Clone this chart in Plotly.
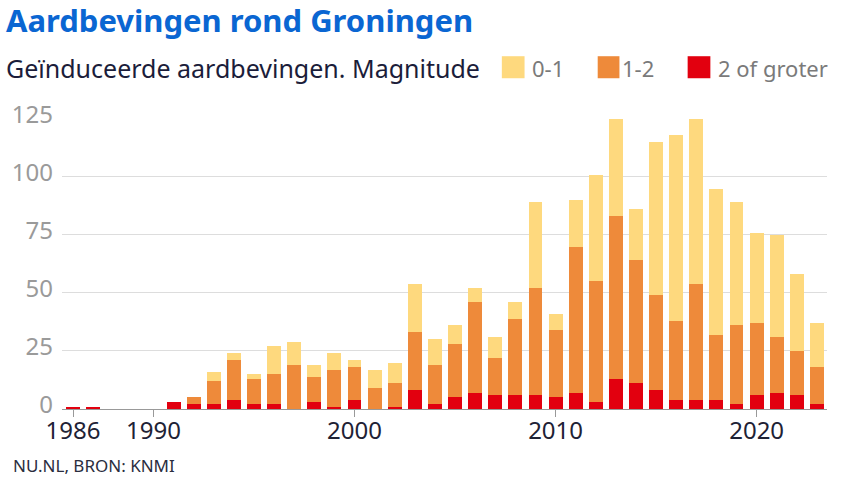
import plotly.graph_objects as go

years = list(range(1986, 2024))
# per-magnitude-class counts
mag_2plus = [1, 1, 0, 0, 0, 3, 2, 2, 4, 2, 2, 0, 3, 1, 4, 0, 1, 8, 2, 5, 7, 6, 6, 6, 5, 7, 3, 13, 11, 8, 4, 4, 4, 2, 6, 7, 6, 2]
mag_1_2 = [0, 0, 0, 0, 0, 0, 3, 10, 17, 11, 13, 19, 11, 16, 14, 9, 10, 25, 17, 23, 39, 16, 33, 46, 29, 63, 52, 70, 53, 41, 34, 50, 28, 34, 31, 24, 19, 16]
mag_0_1 = [0, 0, 0, 0, 0, 0, 0, 4, 3, 2, 12, 10, 5, 7, 3, 8, 9, 21, 11, 8, 6, 9, 7, 37, 7, 20, 46, 42, 22, 66, 80, 71, 63, 53, 39, 44, 33, 19]
series_names = ["0-1", "1-2", "2 of groter"]
colors = ["#FED97E", "#EE8A3A", "#E2000F"]
tick_years = [1986, 1990, 2000, 2010, 2020]
y_ticks = [0, 25, 50, 75, 100, 125]

FONT = "Noto Sans"

fig = go.Figure()
for name, vals, col in [(series_names[2], mag_2plus, colors[2]),
                        (series_names[1], mag_1_2, colors[1]),
                        (series_names[0], mag_0_1, colors[0])]:
    fig.add_bar(x=years, y=vals, name=name, marker=dict(color=col, line=dict(width=0)),
                showlegend=False)

fig.update_layout(
    width=854, height=480,
    barmode="stack", bargap=0.31,
    plot_bgcolor="white", paper_bgcolor="white",
    margin=dict(l=53, r=27, t=118, b=71),
    font=dict(family=FONT),
    xaxis=dict(range=[1985.45, 2023.5], tickvals=tick_years, ticks="outside", ticklen=7,
               tickcolor="#999999", tickwidth=1, showgrid=False, showline=True,
               linecolor="#999999", linewidth=1, zeroline=False,
               ticklabelstandoff=-7,
               tickfont=dict(size=24, color="#1E2235", family=FONT)),
    yaxis=dict(range=[0, 125.4], tickvals=y_ticks, showgrid=True, gridcolor="#DDDDDD",
               gridwidth=1, zeroline=False, showline=False, ticks="",
               ticklabelstandoff=8, ticklabelshift=-4,
               tickfont=dict(size=24, color="#9A9A9A", family=FONT)),
)

def px_x(px):
    return (px - 53) / 774.0

def px_y(py):
    return (409.3 - py) / 290.6

annotations = [
    dict(text="<b>Aardbevingen rond Groningen</b>", x=px_x(-6), y=px_y(21), xanchor="left",
         yanchor="middle", font=dict(size=31, color="#0A66D2", family=FONT)),
    dict(text="Geïnduceerde aardbevingen. Magnitude", x=px_x(-6), y=px_y(69), xanchor="left",
         yanchor="middle", font=dict(size=25, color="#1B1D3A", family=FONT)),
    dict(text="NU.NL, BRON: KNMI", x=px_x(1), y=px_y(466), xanchor="left",
         yanchor="middle", font=dict(size=17, color="#2A2D3E", family=FONT)),
]
shapes = []
leg = [(series_names[0], colors[0], 498, 521, 526), (series_names[1], colors[1], 595, 617, 618),
       (series_names[2], colors[2], 686, 709, 715)]
for name, col, sx0, sx1, tx in leg:
    shapes.append(dict(type="rect", xref="paper", yref="paper", x0=px_x(sx0), x1=px_x(sx1),
                       y0=px_y(79), y1=px_y(57), fillcolor=col, line=dict(width=0)))
    annotations.append(dict(text=name, x=px_x(tx), y=px_y(69), xanchor="left", yanchor="middle",
                            font=dict(size=22, color="#7A7A7A", family=FONT)))
for a in annotations:
    a.update(xref="paper", yref="paper", showarrow=False)
fig.update_layout(annotations=annotations, shapes=shapes)

fig.write_html("out.html", config={"displayModeBar": False},
               post_script="document.body.style.margin='0';")
